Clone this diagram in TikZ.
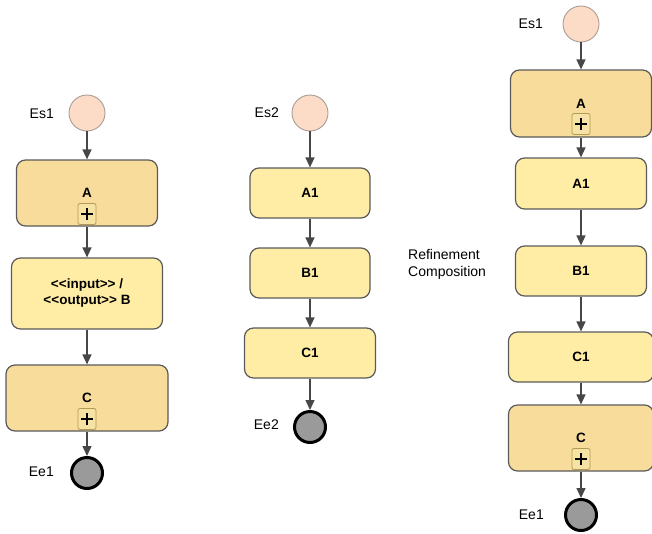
\documentclass[tikz,border=0pt]{standalone}
\usepackage{fontspec}
\setmainfont{Liberation Sans}
\usetikzlibrary{arrows.meta}
\definecolor{subfill}{HTML}{F7DC9B}
\definecolor{taskfill}{HTML}{FFEDA6}
\definecolor{boxline}{HTML}{5A5A5A}
\definecolor{startfill}{HTML}{FCDCC6}
\definecolor{startline}{HTML}{A89C94}
\definecolor{endfill}{HTML}{9A9A9A}
\definecolor{flowcol}{HTML}{474747}
\definecolor{plusfill}{HTML}{F6E2A2}
\definecolor{plusline}{HTML}{B49A5A}
\newcommand{\lt}{<\kern0pt}
\newcommand{\gt}{>\kern0pt}
\begin{document}
\begin{tikzpicture}[x=1pt,y=-1pt,
  task/.style={draw=boxline, line width=1.2pt, rounded corners=9pt, fill=taskfill,
    font=\bfseries\fontsize{13.5}{16}\selectfont, align=center, inner sep=0pt},
  sub/.style={task, fill=subfill},
  startev/.style={circle, draw=startline, line width=0.9pt, fill=startfill, minimum size=36pt, inner sep=0pt},
  endev/.style={circle, draw=black, line width=3pt, fill=endfill, minimum size=31pt, inner sep=0pt},
  flow/.style={draw=flowcol, line width=1.3pt, -{Triangle[width=9pt,length=10pt]}},
  lbl/.style={font=\fontsize{14}{16.5}\selectfont, inner sep=0pt},
  plusbox/.style={draw=plusline, fill=plusfill, rounded corners=2pt, minimum width=18pt,
    minimum height=21pt, inner sep=0pt, line width=0.8pt,
    path picture={\draw[line width=2.4pt,black]
      ([xshift=-6pt]path picture bounding box.center) -- ([xshift=6pt]path picture bounding box.center)
      ([yshift=-6pt]path picture bounding box.center) -- ([yshift=6pt]path picture bounding box.center);}}
]
\useasboundingbox (0,0) rectangle (652,533);

% ---------- left column ----------
\node[startev] (es1L) at (87,113) {};
\node[lbl, anchor=east] (es1Llbl) at (54,114) {Es1};
\node[sub, minimum width=141pt, minimum height=66pt] (aL) at (87,193) {A};
\node[task, minimum width=151pt, minimum height=71pt] (bL) at (87,293.5) {\lt\lt input\gt\gt\ /\\\lt\lt output\gt\gt\ B};
\node[sub, minimum width=162pt, minimum height=66pt] (cL) at (87,398) {C};
\node[endev] (ee1L) at (87,473) {};
\node[lbl, anchor=east] (ee1Llbl) at (54,472) {Ee1};
\draw[flow] (es1L) -- (aL);
\draw[flow] (aL) -- (bL);
\draw[flow] (bL) -- (cL);
\draw[flow] (cL) -- (ee1L);
\node[plusbox] (aLp) at (87,214) {};
\node[plusbox] (cLp) at (87,419) {};

% ---------- middle column ----------
\node[startev] (es2) at (310,113) {};
\node[lbl, anchor=east] (es2lbl) at (279,113) {Es2};
\node[task, minimum width=120pt, minimum height=50pt] (a1M) at (310,193) {A1};
\node[task, minimum width=120pt, minimum height=50pt] (b1M) at (310,273) {B1};
\node[task, minimum width=131pt, minimum height=50pt] (c1M) at (310,353) {C1};
\node[endev] (ee2) at (310,427) {};
\node[lbl, anchor=east] (ee2lbl) at (279,425) {Ee2};
\draw[flow] (es2) -- (a1M);
\draw[flow] (a1M) -- (b1M);
\draw[flow] (b1M) -- (c1M);
\draw[flow] (c1M) -- (ee2);

% ---------- right column ----------
\node[startev] (es1R) at (581,24) {};
\node[lbl, anchor=east] (es1Rlbl) at (543,24) {Es1};
\node[sub, minimum width=141pt, minimum height=67pt] (aR) at (581,103.5) {A};
\node[task, minimum width=131pt, minimum height=51pt] (a1R) at (581,183.5) {A1};
\node[task, minimum width=131pt, minimum height=50pt] (b1R) at (581,271) {B1};
\node[task, minimum width=145pt, minimum height=50pt] (c1R) at (581,357) {C1};
\node[sub, minimum width=145pt, minimum height=66pt] (cR) at (581,438) {C};
\node[endev] (ee1R) at (581,515) {};
\node[lbl, anchor=east] (ee1Rlbl) at (544,515) {Ee1};
\node[lbl, anchor=west, align=left] (refine) at (408,264.5) {Refinement\\Composition};
\draw[flow] (es1R) -- (aR);
\draw[flow] (aR) -- (a1R);
\draw[flow] (a1R) -- (b1R);
\draw[flow] (b1R) -- (c1R);
\draw[flow] (c1R) -- (cR);
\draw[flow] (cR) -- (ee1R);
\node[plusbox] (aRp) at (581,124) {};
\node[plusbox] (cRp) at (581,459) {};
\end{tikzpicture}
\end{document}
